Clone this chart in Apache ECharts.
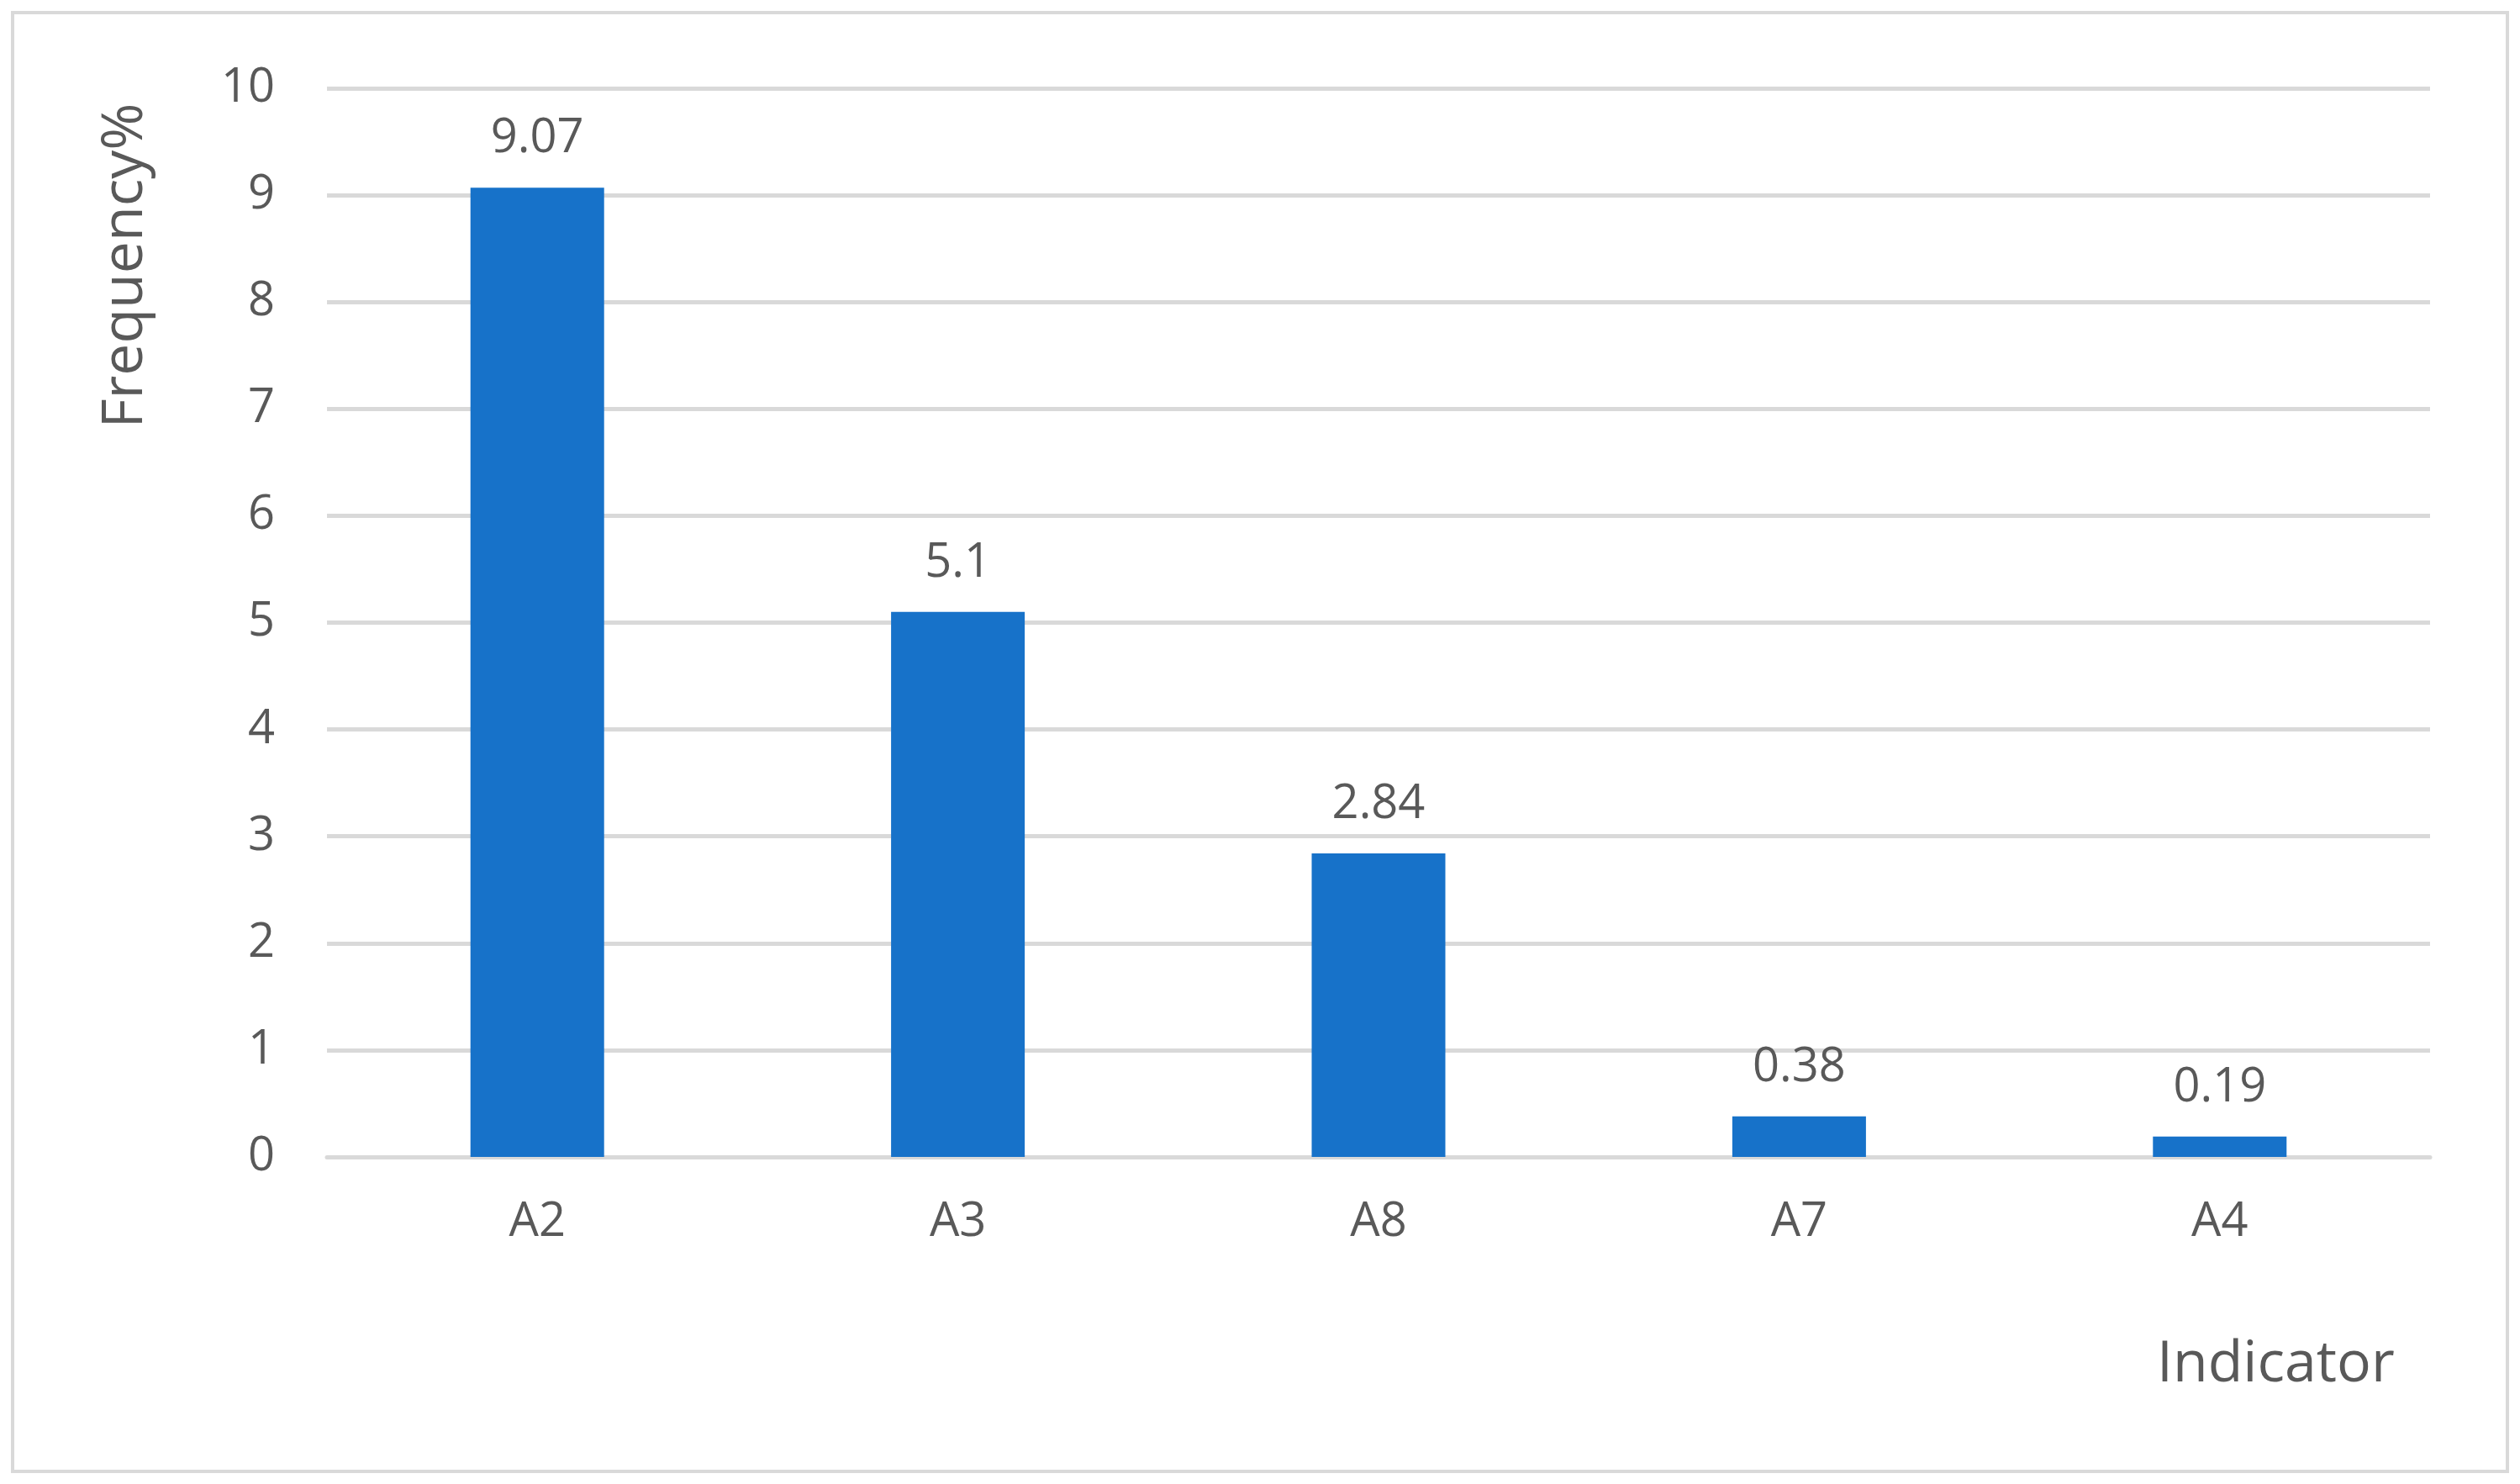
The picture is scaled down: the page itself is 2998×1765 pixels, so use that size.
<!DOCTYPE html>
<html><head><meta charset="utf-8">
<script src="https://cdn.jsdelivr.net/npm/echarts@6/dist/echarts.min.js"></script>
<style>html,body{margin:0;padding:0;background:#fff}#c{width:2998px;height:1765px}</style>
</head><body><div id="c"></div>
<script>
const categories = ["A2","A3","A8","A7","A4"];
const values = [9.07, 5.1, 2.84, 0.38, 0.19];
const yTicks = [0,1,2,3,4,5,6,7,8,9,10];
const font = "Open Sans";
const grey = "#595959";
const chart = echarts.init(document.getElementById('c'));
chart.setOption({
  animation:false,
  backgroundColor:'#fff',
  graphic:[{type:'rect',shape:{x:15,y:15,width:2968,height:1735},style:{fill:'none',stroke:'#d9d9d9',lineWidth:4}},
    {type:'text',left:2566,top:1590,style:{text:'Indicator',font:'68px "Open Sans"',fill:grey}},
    {type:'text',x:150,y:316,rotation:Math.PI/2,style:{text:'Frequency%',font:'68px "Open Sans"',fill:grey,align:'center',verticalAlign:'middle'}}],
  grid:{left:389,right:107,top:105,bottom:389},
  xAxis:{type:'category',data:categories,axisLine:{lineStyle:{color:'#d9d9d9',width:5}},axisTick:{show:false},
    axisLabel:{color:grey,fontSize:56,fontFamily:font,margin:50}},
  yAxis:{type:'value',min:0,max:10,interval:1,axisLine:{show:false},axisTick:{show:false},
    splitLine:{lineStyle:{color:'#d9d9d9',width:5}},
    axisLabel:{color:grey,fontSize:56,fontFamily:font,margin:62}},
  series:[{type:'bar',data:values,barWidth:159,itemStyle:{color:'#1772C9'},
    label:{show:true,position:'top',distance:30,color:grey,fontSize:56,fontFamily:font}}]
});
</script></body></html>
